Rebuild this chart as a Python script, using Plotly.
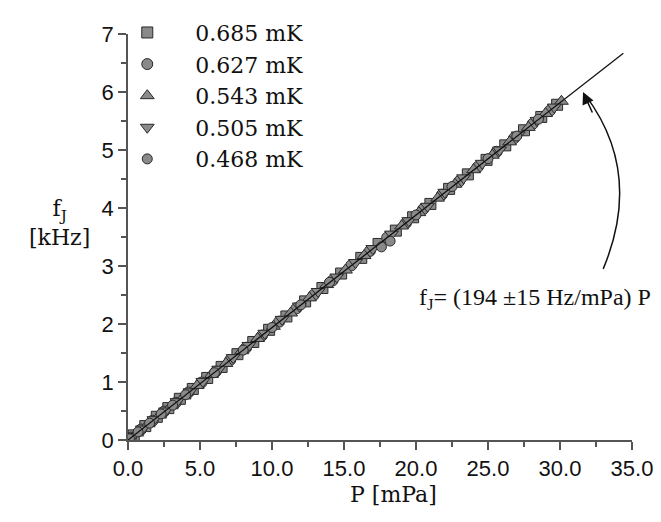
import plotly.graph_objects as go

# ---- data ----
labels = ["0.685 mK", "0.627 mK", "0.543 mK", "0.505 mK", "0.468 mK"]
symbols = ["square", "circle", "triangle-up", "triangle-down", "circle"]
sizes = [11, 11, 12, 12, 10]

P_685 = [0.4, 1.2, 2.0, 2.8, 3.6, 4.5, 5.5, 6.5, 7.6, 8.7, 9.8, 11.0, 12.3, 13.5, 14.8,
         16.2, 17.4, 18.6, 19.8, 21.0, 22.3, 23.6, 24.9, 26.2, 27.5, 28.7, 29.8]
f_685 = [0.08, 0.24, 0.40, 0.55, 0.71, 0.88, 1.07, 1.26, 1.48, 1.69, 1.90, 2.13, 2.39, 2.62, 2.87,
         3.14, 3.38, 3.61, 3.84, 4.07, 4.33, 4.58, 4.83, 5.08, 5.34, 5.57, 5.78]

P_627 = [0.2, 0.9, 1.7, 2.5, 3.3, 4.2, 5.1, 6.1, 7.1, 8.2, 9.3, 10.5, 11.7, 12.9, 14.2,
         15.5, 16.8, 18.0, 19.3, 20.5, 21.8, 23.0, 24.3, 25.6, 26.8, 28.1, 29.3]
f_627 = [0.04, 0.18, 0.33, 0.49, 0.64, 0.82, 0.99, 1.18, 1.38, 1.59, 1.80, 2.04, 2.27, 2.50, 2.75,
         3.01, 3.26, 3.49, 3.74, 3.98, 4.23, 4.46, 4.71, 4.97, 5.20, 5.45, 5.68]

P_543 = [0.6, 1.4, 2.2, 3.0, 3.9, 4.8, 5.8, 6.8, 7.9, 9.0, 10.1, 11.3, 12.6, 13.8, 15.1,
         16.4, 19.0, 20.2, 21.5, 22.7, 24.0, 25.3, 26.5, 27.8, 29.0, 30.1]
f_543 = [0.12, 0.28, 0.43, 0.59, 0.76, 0.94, 1.13, 1.32, 1.54, 1.75, 1.96, 2.19, 2.45, 2.68, 2.93,
         3.18, 3.69, 3.92, 4.17, 4.41, 4.66, 4.91, 5.14, 5.39, 5.63, 5.84]

P_505 = [0.3, 1.0, 1.8, 2.6, 3.4, 4.3, 5.2, 6.3, 7.3, 8.4, 9.5, 10.7, 11.9, 13.2, 14.5,
         15.8, 17.0, 18.3, 19.5, 20.8, 22.0, 23.3, 24.6, 25.8, 27.1, 28.4, 29.6]
f_505 = [0.06, 0.19, 0.35, 0.50, 0.66, 0.83, 1.01, 1.22, 1.42, 1.63, 1.84, 2.08, 2.31, 2.56, 2.81,
         3.06, 3.30, 3.55, 3.78, 4.03, 4.27, 4.52, 4.77, 5.00, 5.26, 5.51, 5.74]

P_468 = [0.1, 0.7, 1.5, 2.3, 3.1, 4.0, 6.0, 8.0, 10.0, 12.0, 14.0, 17.6, 18.2, 20.0, 22.5, 25.0, 27.0, 28.5]
f_468 = [0.02, 0.14, 0.29, 0.45, 0.60, 0.78, 1.16, 1.55, 1.94, 2.33, 2.72, 3.33, 3.43, 3.88, 4.37, 4.85, 5.24, 5.53]

fit_P = [0.0, 34.4]
fit_f = [0.0, 6.67]

x_ticks = [0, 5, 10, 15, 20, 25, 30, 35]
x_ticklabels = ["0.0", "5.0", "10.0", "15.0", "20.0", "25.0", "30.0", "35.0"]
y_ticks = [0, 1, 2, 3, 4, 5, 6, 7]

series_P = [P_685, P_627, P_543, P_505, P_468]
series_f = [f_685, f_627, f_543, f_505, f_468]

fig = go.Figure()
for lab, sym, sz, px, fy in zip(labels, symbols, sizes, series_P, series_f):
    fig.add_trace(go.Scatter(
        x=px, y=fy, mode="markers", name=lab, legendgroup=lab,
        marker=dict(symbol=sym, size=sz, color="#8a8a8a",
                    line=dict(color="#2a2a2a", width=1)),
    ))

fig.add_trace(go.Scatter(x=fit_P, y=fit_f, mode="lines", showlegend=False,
                         line=dict(color="#111111", width=1.3)))

axis_common = dict(
    showgrid=False, zeroline=False, showline=True, linecolor="#555555", linewidth=1.5,
    ticks="outside", tickcolor="#555555", tickwidth=1.5, ticklen=8, automargin=False,
    tickfont=dict(family="Liberation Sans, Arial, sans-serif", size=22, color="#111111"),
    minor=dict(ticks="outside", ticklen=5, tickcolor="#555555", tickwidth=1.5),
)

fig.update_xaxes(range=[0, 35], tickvals=x_ticks, ticktext=x_ticklabels,
                 minor_dtick=2.5, **axis_common)
fig.update_yaxes(range=[0, 7], tickvals=y_ticks, minor_dtick=0.5, **axis_common)

# axis titles
fig.add_annotation(xref="paper", yref="paper", x=0.526, y=-0.135, xanchor="center", yanchor="middle",
                   text="P [mPa]", showarrow=False,
                   font=dict(family="DejaVu Serif, serif", size=22, color="#111111"))
fig.add_annotation(xref="paper", yref="paper", x=-0.135, y=0.535, xanchor="center", yanchor="middle",
                   text="f<sub>J</sub><br>[kHz]", showarrow=False, align="center",
                   font=dict(family="DejaVu Serif, serif", size=22, color="#111111"))

# fit label
fig.add_annotation(xref="paper", yref="paper", x=1.0417, y=0.348, xanchor="right", yanchor="middle",
                   text="f<sub>J</sub>= (194 ±15 Hz/mPa) P", showarrow=False,
                   font=dict(family="Liberation Serif, Times New Roman, serif", size=24, color="#111111"))

# curved arrow
fig.add_shape(type="path", xref="x", yref="y",
              path="M 33.0,2.95 Q 35.8,4.61 31.75,5.95",
              line=dict(color="#111111", width=1.5))
fig.add_annotation(xref="x", yref="y", x=31.6, y=6.0, ax=10, ay=22, axref="pixel", ayref="pixel",
                   text="", showarrow=True, arrowhead=2, arrowsize=1.6, arrowwidth=1.5,
                   arrowcolor="#111111")

fig.update_layout(
    width=661, height=522,
    margin=dict(l=128, r=29, t=18, b=82),
    plot_bgcolor="white", paper_bgcolor="white",
    legend=dict(x=-0.057, y=1.055, xanchor="left", yanchor="top", bgcolor="rgba(0,0,0,0)",
                font=dict(family="DejaVu Serif, serif", size=22, color="#111111"),
                tracegroupgap=0, itemwidth=86),
)

fig.write_html("out.html", config={"displayModeBar": False},
               post_script="document.body.style.margin='0';")
